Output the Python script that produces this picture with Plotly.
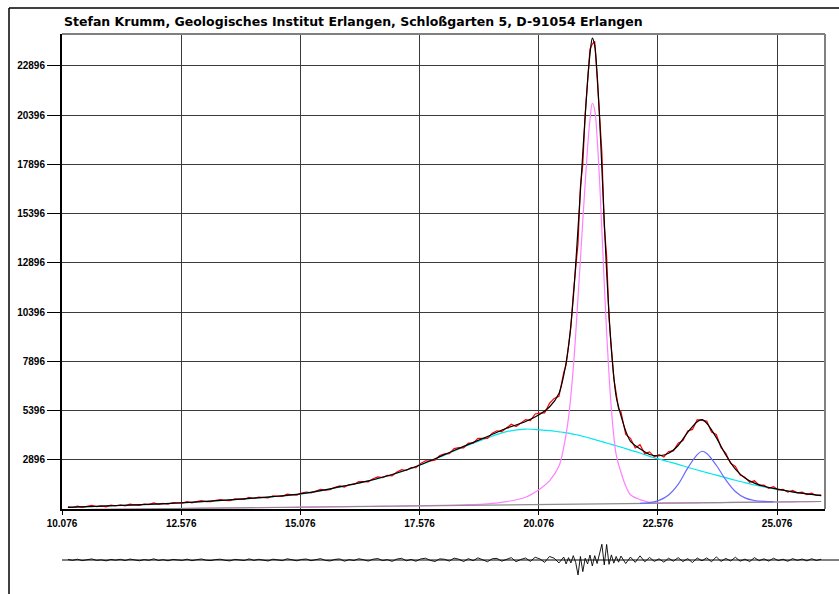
import numpy as np
import plotly.graph_objects as go

# ---- profile model: 2-theta grid (deg) and component intensities (counts) ----
X = [10.2, 10.6, 11.0, 11.5, 12.0, 12.5, 13.0, 13.5, 14.0, 14.5,
     15.0, 15.5, 16.0, 16.5, 17.0, 17.5, 18.0, 18.5, 19.0, 19.4,
     19.8, 20.1, 20.3, 20.5, 20.6, 20.7, 20.8, 20.9, 21.0, 21.05,
     21.1, 21.15, 21.2, 21.25, 21.3, 21.35, 21.4, 21.5, 21.6, 21.7,
     21.8, 21.9, 22.0, 22.2, 22.4, 22.6, 22.8, 23.0, 23.2, 23.4,
     23.5, 23.6, 23.8, 24.0, 24.2, 24.4, 24.6, 24.8, 25.0, 25.4,
     25.8, 26.0]

# background
BASE = [360, 371, 381, 395, 408, 421, 434, 448, 461, 474,
        488, 501, 514, 528, 541, 554, 567, 581, 594, 605,
        615, 623, 629, 634, 637, 639, 642, 645, 647, 648,
        650, 651, 653, 654, 655, 657, 658, 661, 663, 666,
        669, 671, 674, 679, 684, 690, 695, 700, 705, 711,
        713, 716, 721, 727, 732, 737, 743, 748, 754, 764,
        775, 780]

# broad band (net above background)
BROAD = [122, 146, 170, 200, 237, 278, 335, 396, 467, 548,
         642, 819, 1046, 1292, 1599, 1991, 2473, 2969, 3416, 3725,
         3845, 3797, 3751, 3686, 3653, 3611, 3558, 3505, 3443, 3412,
         3380, 3349, 3307, 3276, 3235, 3203, 3162, 3089, 3017, 2944,
         2871, 2794, 2716, 2566, 2386, 2240, 2105, 1965, 1815, 1669,
         1602, 1534, 1399, 1263, 1128, 1003, 877, 772, 676, 506,
         365, 300]

# main reflection (net)
MAIN = [3, 3, 4, 4, 5, 5, 6, 6, 7, 7,
        8, 9, 10, 11, 12, 14, 18, 30, 70, 170,
        380, 790, 1200, 1950, 2900, 4400, 6900, 10500, 14400, 16300,
        18100, 19500, 20350, 20000, 18600, 16500, 13900, 8700, 4800, 2500,
        1600, 900, 450, 200, 60, 25, 12, 8, 6, 5,
        5, 4, 4, 3, 3, 3, 2, 2, 2, 2,
        1, 1]

# minor reflection (net)
MINOR = [0, 0, 0, 0, 0, 0, 0, 0, 0, 0,
         0, 0, 0, 0, 0, 0, 0, 0, 0, 0,
         0, 0, 0, 0, 0, 0, 0, 0, 0, 0,
         0, 0, 0, 0, 0, 0, 0, 0, 0, 0,
         0, 0, 0, 10, 40, 150, 420, 950, 1770, 2450,
         2620, 2500, 1900, 1150, 560, 230, 90, 35, 15, 0,
         0, 0]

# ---- measured scan: step positions (0.1 deg, 0.05 deg across the main peak) ----
OBS_X = np.concatenate([np.arange(102, 206) / 10,
                        np.arange(412, 436) / 20,
                        np.arange(218, 261) / 10])

OBS = [510, 476, 542, 479, 532, 584, 517, 554, 510, 594,
       563, 616, 562, 647, 614, 581, 652, 625, 710, 636,
       690, 642, 723, 714, 696, 777, 712, 776, 827, 778,
       775, 845, 875, 832, 822, 917, 909, 891, 993, 934,
       1008, 976, 960, 1071, 1071, 1040, 1156, 1108, 1098, 1204,
       1264, 1218, 1306, 1399, 1355, 1377, 1504, 1577, 1510, 1640,
       1649, 1792, 1791, 1776, 1935, 2034, 1994, 2108, 2082, 2281,
       2399, 2356, 2507, 2494, 2714, 2849, 2838, 2883, 3118, 3197,
       3212, 3466, 3516, 3500, 3750, 3745, 3990, 4005, 3990, 4250,
       4370, 4335, 4545, 4705, 4585, 4785, 4940, 4893, 5227, 5265,
       5275, 5760, 6015, 6120,
       7340, 7720, 8770, 9650, 11320, 12680, 13890, 16780, 17900, 20450,
       21930, 23750, 24010, 24150, 22310, 20660, 18520, 14750, 13240, 10080,
       8740, 7040, 6290, 5490,
       5340, 4185, 3990, 3500, 3665, 3210, 3300, 3050, 3165, 3040,
       3322, 3350, 3743, 3880, 4366, 4440, 4935, 4900, 4864, 4310,
       4184, 3510, 3223, 2720, 2563, 2130, 2018, 1760, 1832, 1595,
       1617, 1445, 1537, 1374, 1400, 1253, 1345, 1221, 1258, 1129,
       1206, 1086, 1121]

# difference curve (observed - calculated)
RESID = [25, -18, 40, -32, 12, 55, -20, 8, -45, 30,
         -10, 35, -28, 48, 5, -38, 22, -15, 60, -25,
         18, -40, 30, 10, -22, 45, -35, 15, 52, -12,
         -30, 25, 40, -18, -45, 33, 8, -27, 58, -20,
         35, -15, -50, 42, 20, -33, 62, -8, -40, 28,
         50, -35, 15, 70, -22, -48, 30, 55, -60, 18,
         -25, 65, 12, -55, 40, 75, -30, 20, -70, 48,
         85, -40, 30, -65, 55, 90, -20, -75, 60, 35,
         -55, 95, 40, -80, 70, -35, 110, 25, -90, 65,
         80, -60, 45, 120, -85, 30, 100, -70, 140, 55,
         -120, 180, 90, -150,
         150, -200, 120, -150, 220, -120, -760, 180, -590, 90,
         -200, 250, -300, 220, -180, 300, 800, -250, 790, -220,
         260, -160, 180, -110,
         200, -180, 150, -120, 210, -90, 130, -70, 60, -110,
         90, -60, 120, -80, 70, -130, 100, -40, 110, -90,
         160, -70, 80, -50, 140, -60, 45, -80, 120, -35,
         60, -55, 90, -30, 40, -65, 70, -20, 50, -45,
         65, -25, 40]

X_TICKS = [10.076, 12.576, 15.076, 17.576, 20.076, 22.576, 25.076]
Y_TICKS = [2896, 5396, 7896, 10396, 12896, 15396, 17896, 20396, 22896]
TITLE = "Stefan Krumm, Geologisches Institut Erlangen, Schloßgarten 5, D-91054 Erlangen"

x = np.array(X, dtype=float)
base = np.array(BASE, dtype=float)
broad = np.array(BROAD, dtype=float)
main = np.array(MAIN, dtype=float)
minor = np.array(MINOR, dtype=float)
fit = base + broad + main + minor
has_minor = minor > 0

# ---- page geometry (pixels) ----
W, H = 839, 594
ML, MR, MT, MB = 62, 14, 34, 14
PW, PH = W - ML - MR, H - MT - MB
AXIS_BOTTOM = 509          # bottom of main panel
RES_CENTER, RES_HALF = 560, 20
PX_PER_COUNT = 393.7 / 20000.0


def px_x(px):
    return (px - ML) / PW


def px_y(py):
    return (H - MB - py) / PH


FONT = "Liberation Sans, Arial, sans-serif"
TITLE_FONT = "DejaVu Sans, Verdana, sans-serif"

fig = go.Figure()

fig.add_trace(go.Scatter(x=x, y=base + broad, mode="lines", line_shape="spline",
                         line=dict(color="#00E6EE", width=1.2), hoverinfo="skip"))
fig.add_trace(go.Scatter(x=x, y=base + main, mode="lines", line_shape="spline",
                         line=dict(color="#FF80FF", width=1.2), hoverinfo="skip"))
fig.add_trace(go.Scatter(x=x, y=base, mode="lines",
                         line=dict(color="#8C8C8C", width=1.2), hoverinfo="skip"))
fig.add_trace(go.Scatter(x=x[has_minor], y=(base + minor)[has_minor], mode="lines",
                         line_shape="spline", line=dict(color="#6868FF", width=1.2),
                         hoverinfo="skip"))
fig.add_trace(go.Scatter(x=OBS_X, y=OBS, mode="lines",
                         line=dict(color="#FF0000", width=1.2), hoverinfo="skip"))
fig.add_trace(go.Scatter(x=x, y=fit, mode="lines", line_shape="spline",
                         line=dict(color="#000000", width=1.2, smoothing=0.8),
                         hoverinfo="skip"))
fig.add_trace(go.Scatter(x=OBS_X, y=RESID, mode="lines", xaxis="x2", yaxis="y2",
                         line=dict(color="#000000", width=0.9), hoverinfo="skip"))

tickfont = dict(family=FONT, size=10, color="#000000", weight="bold")
res_range = RES_HALF / PX_PER_COUNT

fig.update_layout(
    width=W, height=H,
    margin=dict(l=ML, r=MR, t=MT, b=MB),
    paper_bgcolor="white", plot_bgcolor="white",
    showlegend=False,
    xaxis=dict(range=[10.076, 26.08], domain=[0, 1], anchor="y",
               tickmode="array", tickvals=X_TICKS,
               ticktext=[f"{v:.3f}" for v in X_TICKS],
               ticks="outside", ticklen=4, tickwidth=1, tickcolor="#000000",
               showline=True, linecolor="#000000", linewidth=2,
               showgrid=True, gridcolor="#3A3A3A", gridwidth=1,
               zeroline=False, tickfont=tickfont),
    yaxis=dict(range=[400, 24520], domain=[px_y(AXIS_BOTTOM), 1], anchor="x",
               tickmode="array", tickvals=Y_TICKS,
               ticktext=[str(v) for v in Y_TICKS],
               ticks="outside", ticklen=13, tickwidth=1, tickcolor="#000000",
               showline=True, linecolor="#000000", linewidth=2,
               showgrid=True, gridcolor="#3A3A3A", gridwidth=1,
               zeroline=False, tickfont=tickfont),
    xaxis2=dict(matches="x", domain=[0, 1], anchor="y2", visible=False),
    yaxis2=dict(range=[-res_range, res_range],
                domain=[px_y(RES_CENTER + RES_HALF), px_y(RES_CENTER - RES_HALF)],
                anchor="x2", visible=False),
    shapes=[
        # upper and right edges of the plot box
        dict(type="line", xref="paper", yref="paper", x0=0, x1=1, y0=1, y1=1,
             line=dict(color="#808080", width=2)),
        dict(type="line", xref="paper", yref="paper", x0=1, x1=1,
             y0=px_y(AXIS_BOTTOM), y1=1, line=dict(color="#808080", width=2)),
        # zero line of the difference curve
        dict(type="line", xref="paper", yref="y2", x0=0, x1=px_x(W), y0=0, y1=0,
             line=dict(color="#000000", width=1), layer="below"),
        # outer frame
        dict(type="line", xref="paper", yref="paper", x0=px_x(9), x1=px_x(9),
             y0=px_y(H), y1=px_y(8), line=dict(color="#000000", width=1.5)),
        dict(type="line", xref="paper", yref="paper", x0=px_x(9), x1=px_x(W),
             y0=px_y(8), y1=px_y(8), line=dict(color="#000000", width=1.5)),
    ],
    annotations=[
        dict(text=TITLE, xref="paper", yref="paper", x=0, y=px_y(21),
             xanchor="left", yanchor="middle", showarrow=False,
             font=dict(family=TITLE_FONT, size=12.5, color="#000000", weight="bold")),
    ],
)

fig.write_html("out.html", config={"displayModeBar": False})
